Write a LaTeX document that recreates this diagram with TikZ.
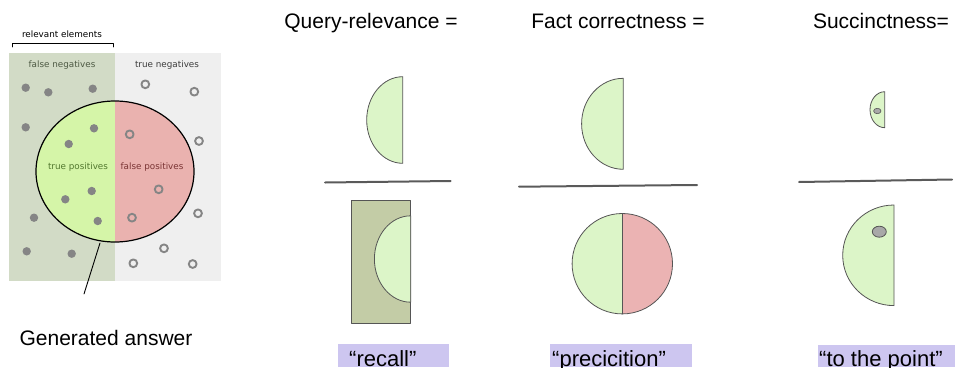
\documentclass[tikz,border=0pt]{standalone}
\usepackage{fontspec}
\setmainfont{Liberation Sans}
\newfontfamily\smallfont{DejaVu Sans}

\definecolor{fnback}{HTML}{D2DBC6}
\definecolor{tnback}{HTML}{EFEFEF}
\definecolor{tpgreen}{HTML}{D5F5A8}
\definecolor{fppink}{HTML}{EAB2AF}
\definecolor{dotgray}{HTML}{858585}
\definecolor{halfgreen}{HTML}{DCF5C8}
\definecolor{halfpink}{HTML}{EBB3B3}
\definecolor{boxolive}{HTML}{C3CCA6}
\definecolor{edgegray}{HTML}{555555}
\definecolor{bargray}{HTML}{5A5A5A}
\definecolor{tagback}{HTML}{CDC6F0}
\definecolor{seedgray}{HTML}{A8A8A8}
\definecolor{fntext}{HTML}{4E5A44}
\definecolor{tntext}{HTML}{3C3C3C}
\definecolor{tptext}{HTML}{52782E}
\definecolor{fptext}{HTML}{7A3434}

\begin{document}
\begin{tikzpicture}[x=1pt, y=-1pt, line cap=round, line join=round,
	head/.style={anchor=base, inner sep=0pt, font=\fontsize{21}{25}\selectfont},
	tag/.style={anchor=base west, inner sep=0pt, font=\fontsize{22}{26}\selectfont},
	tiny/.style={inner sep=0pt, font=\smallfont\fontsize{8.8}{10}\selectfont},
	part/.style={draw=edgegray, line width=0.8pt},
	bar/.style={draw=bargray, line width=2pt},
	ring/.style={draw=dotgray, line width=1.9pt}]
	
	\useasboundingbox (0,0) rectangle (964,367);
	
	% Left panel: relevant / irrelevant elements
	\fill[fnback] (9,53) rectangle (115,281);
	\fill[tnback] (115,53) rectangle (221,281);
	
	% Selected elements (ellipse split in two halves)
	\coordinate (O) at (115,171.5);
	\fill[tpgreen] (115,242) arc[start angle=90, end angle=270, x radius=79, y radius=70.5] -- cycle;
	\fill[fppink] (115,101) arc[start angle=270, end angle=450, x radius=79, y radius=70.5] -- cycle;
	\draw[line width=1.2pt] (O) ellipse[x radius=79, y radius=70.5];
	
	% Relevant elements (filled dots)
	\foreach \p in {(25.7,87.7), (48.3,92.3), (92.7,88.7), (25.7,127.3), (94,128.3),
		(68.7,144), (91.7,191), (65.3,199.3), (97.7,221), (34,217.7), (26.7,251.3), (71.7,253.7)} {
		\fill[dotgray] \p circle (4.2);
	}
	
	% Irrelevant elements (rings)
	\foreach \p in {(145.3,84.3), (194.3,91.7), (129.7,134.3), (199,141), (158.7,189.3),
		(132,217.7), (198,213.3), (164,248.3), (133.3,263.3), (192.7,264)} {
		\draw[ring] \p circle (3.9);
	}
	
	% Region labels
	\node[tiny, text=fntext] (fn) at (62,65) {false negatives};
	\node[tiny, text=tntext] (tn) at (167,65) {true negatives};
	\node[tiny, text=tptext] (tp) at (78,167) {true positives};
	\node[tiny, text=fptext] (fp) at (152,167) {false positives};
	
	% Bracket over relevant elements
	\node[tiny] (rel) at (62,34) {relevant elements};
	\draw[line width=0.8pt] (12,47) -- (12,43) -- (113,43) -- (113,47);
	
	% Pointer to the generated answer
	\coordinate (tipA) at (100,243);
	\coordinate (tipB) at (84,294);
	\draw[line width=0.9pt] (tipA) -- (tipB);
	\node[head] (gen) at (106,345.5) {Generated answer};
	
	% Headers
	\node[head] (qr) at (371,28) {Query-relevance =};
	\node[head] (fc) at (618,28) {Fact correctness =};
	\node[head] (su) at (881,28) {Succinctness=};
	
	% Query-relevance
	\filldraw[part, fill=halfgreen] (402.7,163.3) arc[start angle=90, end angle=270, x radius=36, y radius=43.3] -- cycle;
	\draw[bar] (325,182.5) -- (450.7,181);
	\filldraw[part, fill=boxolive] (351,200) rectangle (410.7,323.3);
	\filldraw[part, fill=halfgreen] (410.7,302.2) arc[start angle=90, end angle=270, x radius=36.3, y radius=43.2] -- cycle;
	
	% Fact correctness
	\filldraw[part, fill=halfgreen] (623.3,169.3) arc[start angle=90, end angle=270, x radius=41.7, y radius=45.5] -- cycle;
	\draw[bar] (519,186.7) -- (697,185);
	\fill[halfgreen] (622.3,313.9) arc[start angle=90, end angle=270, radius=50.2] -- cycle;
	\fill[halfpink] (622.3,213.5) arc[start angle=270, end angle=450, radius=50.2] -- cycle;
	\draw[part] (622.3,263.7) circle (50.2);
	\draw[part] (622.3,213.5) -- (622.3,313.9);
	
	% Succinctness
	\filldraw[part, fill=halfgreen] (884.7,127.7) arc[start angle=90, end angle=270, x radius=14.7, y radius=18] -- cycle;
	\filldraw[part, line width=0.6pt, fill=seedgray] (877.3,111) ellipse[x radius=3.7, y radius=2.7];
	\draw[bar] (799,182) -- (952,179.5);
	\filldraw[part, fill=halfgreen] (894,305.6) arc[start angle=90, end angle=270, x radius=51.3, y radius=50.3] -- cycle;
	\filldraw[part, fill=seedgray] (879.3,231.7) ellipse[x radius=7, y radius=5.5];
	
	% Nicknames
	\fill[tagback] (338,344) rectangle (449,367);
	\fill[tagback] (550,344) rectangle (692,367);
	\fill[tagback] (818,345) rectangle (955,367);
	\node[tag] (recall) at (349,366) {“recall”};
	\node[tag] (prec) at (552,366) {“precicition”};
	\node[tag] (point) at (819,366) {“to the point”};
	
\end{tikzpicture}
\end{document}
